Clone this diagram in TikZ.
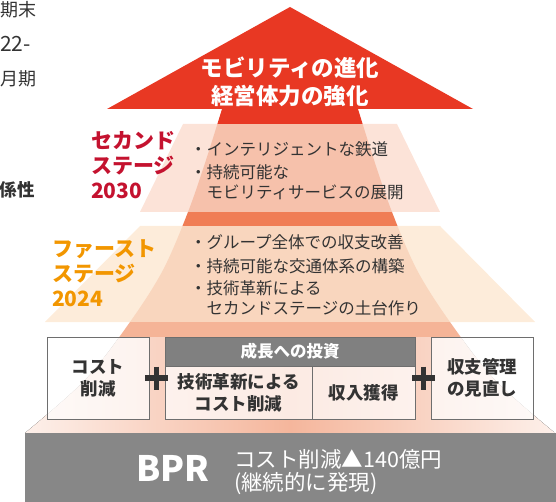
\documentclass[tikz,border=0pt]{standalone}
\usepackage{fontspec}
\setmainfont{Noto Sans CJK JP}
\definecolor{arrowred}{HTML}{E83823}
\definecolor{bandpink}{HTML}{FCE3D8}
\definecolor{bandcream}{HTML}{FDECDA}
\definecolor{coresalmon}{HTML}{F6C1AB}
\definecolor{coreorange}{HTML}{F07D55}
\definecolor{corepeach}{HTML}{F9D6BE}
\definecolor{corestrip}{HTML}{F5B497}
\definecolor{peachmid}{HTML}{F5B69C}
\definecolor{peachedge}{HTML}{FDF0EA}
\definecolor{stagered}{HTML}{C4122F}
\definecolor{stageorange}{HTML}{F29600}
\definecolor{textgray}{HTML}{333333}
\definecolor{bargray}{HTML}{878787}
\definecolor{headgray}{HTML}{808080}
\definecolor{boxline}{HTML}{6E6E6E}
\tikzset{
  cuttext/.style={font=\fontsize{18}{18}\selectfont, text=textgray, inner sep=0pt, anchor=east},
  arrowtext/.style={font=\bfseries\fontsize{22.5}{28}\selectfont, text=white, align=center, inner sep=0pt},
  secondtitle/.style={font=\bfseries\fontsize{21}{25}\selectfont, text=stagered, align=left, inner sep=0pt, anchor=west},
  firsttitle/.style={font=\bfseries\fontsize{21}{25}\selectfont, text=stageorange, align=left, inner sep=0pt, anchor=west},
  bullet/.style={font=\fontsize{16.5}{20}\selectfont, text=textgray, align=left, inner sep=0pt, anchor=west},
  boxnode/.style={draw=boxline, line width=0.8pt, fill=white, fill opacity=0.72, text opacity=1, inner sep=0pt, font=\bfseries\fontsize{17.5}{22}\selectfont, text=textgray, align=center},
  headnode/.style={draw=boxline, line width=0.8pt, fill=headgray, inner sep=0pt, text=white, font=\bfseries\fontsize{16.5}{20}\selectfont},
  plusline/.style={line width=5.5pt, draw=textgray},
  bprtext/.style={font=\bfseries\fontsize{35}{35}\selectfont, text=white, inner sep=0pt},
  bprnote/.style={font=\fontsize{21.5}{25}\selectfont, text=white, inner sep=0pt, anchor=west},
}
\begin{document}
\begin{tikzpicture}[x=1pt,y=-1pt]
\useasboundingbox (0,0) rectangle (556,502);
\clip (0,0) rectangle (556,502);

% visible parts of the neighbouring column's text
\node[cuttext] (cut1) at (37,10) {期末};
\node[cuttext, font=\fontsize{21}{21}\selectfont, anchor=west] (cut2) at (0,44) {22-};
\node[cuttext] (cut3) at (37,79) {月期};
\node[cuttext, font=\bfseries\fontsize{17.5}{18}\selectfont] (cut4) at (35,190) {係性};

% stage bands (outer pale parts)
\fill[bandpink] (183,124) -- (397,124) -- (440,212) -- (140,212) -- cycle;
\fill[bandcream] (140,226) -- (440,226) -- (535,322) -- (45,322) -- cycle;

% core mountain
\begin{scope}
\clip plot[smooth,tension=0.55] coordinates {(222,109) (206,160) (188,212) (163,270) (130,322) (85,380) (25,433)}
  -- plot[smooth,tension=0.55] coordinates {(555,433) (495,380) (450,322) (417,270) (392,212) (374,160) (358,109)} -- cycle;
\fill[arrowred] (0,100) rectangle (580,124);
\fill[coresalmon] (0,124) rectangle (580,212);
\fill[coreorange] (0,212) rectangle (580,226);
\fill[corepeach] (0,226) rectangle (580,322);
\fill[corestrip] (0,322) rectangle (580,337);
\fill[left color=peachedge, right color=peachedge, middle color=peachmid] (25,337) rectangle (555,440);
\end{scope}

% arrow head
\fill[arrowred] (290,7) -- (473,109) -- (107,109) -- cycle;
\node[arrowtext] (goal) at (290,82) {モビリティの進化\\経営体力の強化};

% second stage
\node[secondtitle] (st2) at (91,165) {セカンド\\ステージ\\2030};
\node[bullet] (b21) at (190,149) {・インテリジェントな鉄道};
\node[bullet] (b22) at (190,182) {・持続可能な\\\hphantom{・}モビリティサービスの展開};

% first stage
\node[firsttitle] (st1) at (52,273) {ファースト\\ステージ\\2024};
\node[bullet] (b11) at (190,242) {・グループ全体での収支改善};
\node[bullet] (b12) at (190,266) {・持続可能な交通体系の構築};
\node[bullet] (b13) at (190,298) {・技術革新による\\\hphantom{・}セカンドステージの土台作り};

% boxes
\node[boxnode, minimum width=102pt, minimum height=82pt] (cost) at (98,378) {コスト\\削減};
\node[headnode, minimum width=250pt, minimum height=29pt] (invest) at (290,351.5) {成長への投資};
\node[boxnode, minimum width=147pt, minimum height=53pt] (tech) at (238.5,392.5) {技術革新による\\コスト削減};
\node[boxnode, minimum width=103pt, minimum height=53pt] (income) at (363.5,392.5) {収入獲得};
\node[boxnode, minimum width=102pt, minimum height=82pt] (review) at (482,378) {収支管理\\の見直し};

% plus signs
\draw[plusline] (145,378) -- (168,378) (156.5,366.5) -- (156.5,389.5);
\draw[plusline] (412,378) -- (435,378) (423.5,366.5) -- (423.5,389.5);

% BPR bar
\fill[bargray] (25,433) rectangle (556,502);
\node[bprtext] (bpr) at (173,468) {BPR};
\node[bprnote] (bpr1) at (234,459) {コスト削減▲140億円};
\node[bprnote] (bpr2) at (234,484) {(継続的に発現)};
\end{tikzpicture}
\end{document}
